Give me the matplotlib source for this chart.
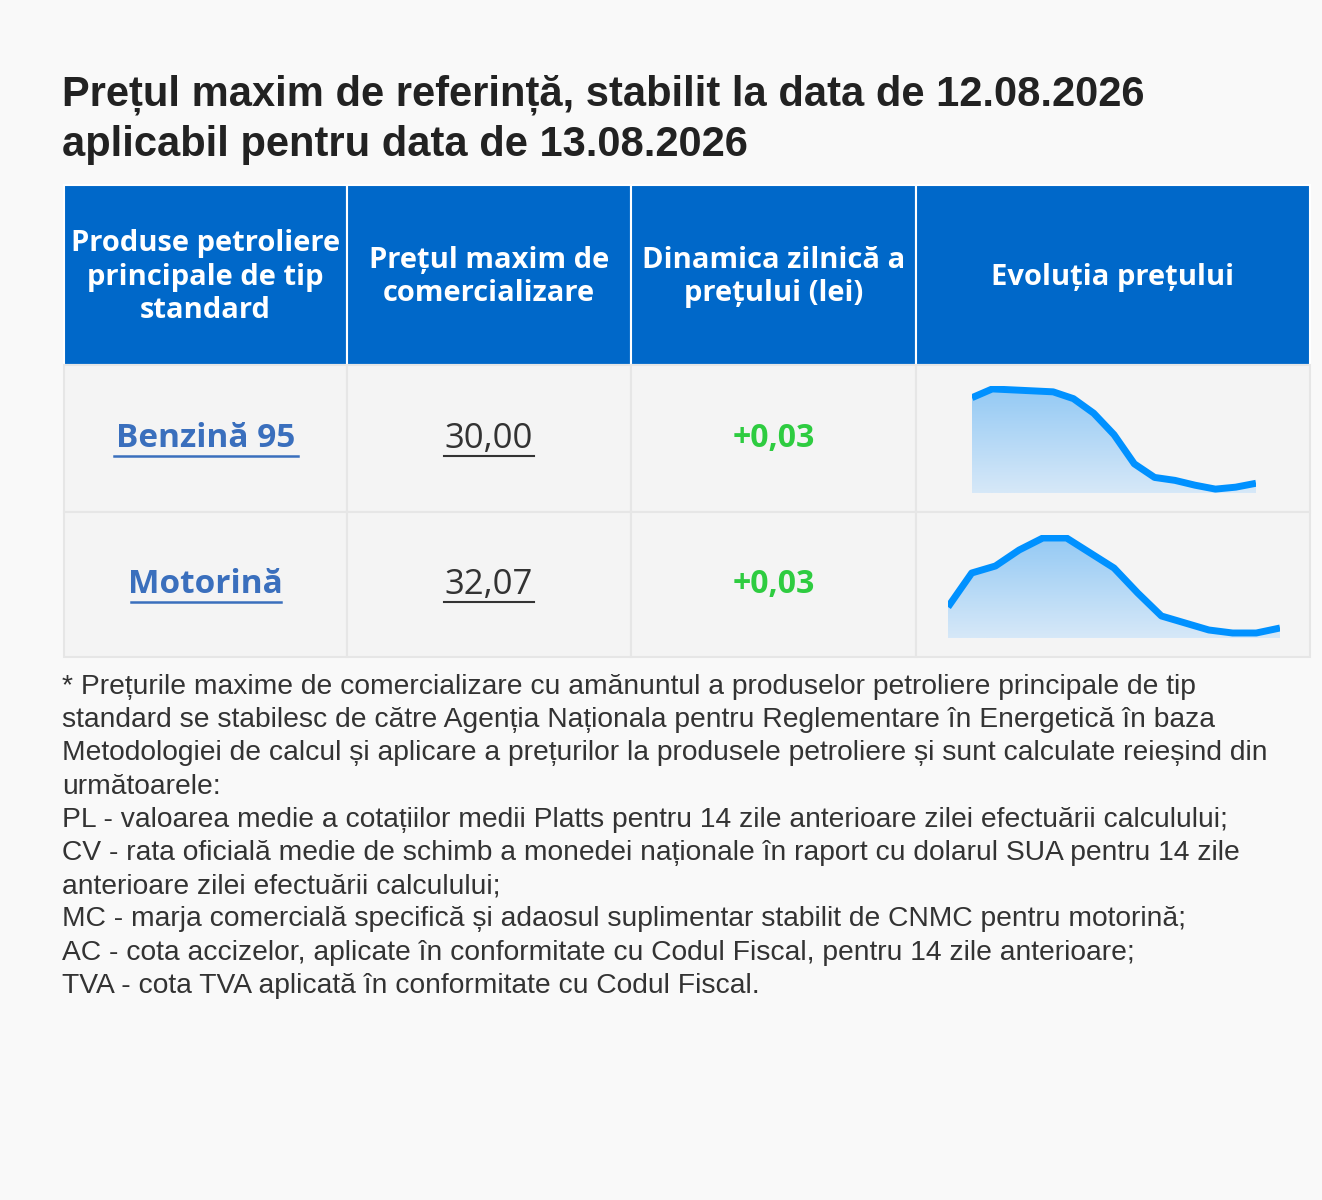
import numpy as np
import matplotlib.pyplot as plt
from matplotlib.patches import Rectangle

title_lines = ["Prețul maxim de referință, stabilit la data de 12.08.2026",
               "aplicabil pentru data de 13.08.2026"]
headers = ["Produse petroliere\nprincipale de tip\nstandard", "Prețul maxim de\ncomercializare",
           "Dinamica zilnică a\nprețului (lei)", "Evoluția prețului"]
products = ["Benzină 95", "Motorină"]
prices = ["30,00", "32,07"]
changes = ["+0,03", "+0,03"]
# sparkline shapes (relative price level)
trend_benzina = [98, 107, 106, 105, 104, 97, 82, 60, 30, 16, 13, 8, 4, 6, 10]
trend_motorina = [31, 65, 72, 88, 100, 100, 85, 70, 45, 22, 15, 8, 5, 5, 10]
footnote = [
    "* Prețurile maxime de comercializare cu amănuntul a produselor petroliere principale de tip",
    "standard se stabilesc de către Agenția Naționala pentru Reglementare în Energetică în baza",
    "Metodologiei de calcul și aplicare a prețurilor la produsele petroliere și sunt calculate reieșind din",
    "următoarele:",
    "PL - valoarea medie a cotațiilor medii Platts pentru 14 zile anterioare zilei efectuării calculului;",
    "CV - rata oficială medie de schimb a monedei naționale în raport cu dolarul SUA pentru 14 zile",
    "anterioare zilei efectuării calculului;",
    "MC - marja comercială specifică și adaosul suplimentar stabilit de CNMC pentru motorină;",
    "AC - cota accizelor, aplicate în conformitate cu Codul Fiscal, pentru 14 zile anterioare;",
    "TVA - cota TVA aplicată în conformitate cu Codul Fiscal.",
]

W, H = 1322, 1200
fig = plt.figure(figsize=(W / 100, H / 100), dpi=100, facecolor="#f9f9f9")
ax = fig.add_axes([0, 0, 1, 1])
ax.set_xlim(0, W)
ax.set_ylim(H, 0)
ax.axis("off")

for i, t in enumerate(title_lines):
    ax.text(62, 95 + i * 50, t, fontsize=30, fontweight="bold", color="#222222",
            family="Liberation Sans", va="center")

cols = [64, 347, 631, 916, 1310]
head_top, head_bot = 185, 365
rows = [(365, 512), (512, 657)]
blue = "#0068c9"
for c in range(4):
    ax.add_patch(Rectangle((cols[c], head_top), cols[c + 1] - cols[c], head_bot - head_top,
                           facecolor=blue, edgecolor="white", lw=1.5))
    ax.text((cols[c] + cols[c + 1]) / 2, 277, headers[c], color="white", fontsize=21,
            fontweight="bold", family="Open Sans", ha="center", va="center", linespacing=1.2)
for r, (y0, y1) in enumerate(rows):
    for c in range(4):
        ax.add_patch(Rectangle((cols[c], y0), cols[c + 1] - cols[c], y1 - y0,
                               facecolor="#f4f4f4", edgecolor="#e6e6e6", lw=1.5))
    yc = (y0 + y1) / 2
    xc = (cols[0] + cols[1]) / 2
    ax.text(xc, yc, products[r], color="#3a6fbd", fontsize=24, fontweight="bold",
            family="Open Sans", ha="center", va="center")
    hw = 92 if r == 0 else 75
    ax.plot([xc - hw, xc + hw], [yc + 17, yc + 17], color="#3a6fbd", lw=1.8)
    xc = (cols[1] + cols[2]) / 2
    ax.text(xc, yc, prices[r], color="#333333", fontsize=25, family="Open Sans",
            ha="center", va="center")
    ax.plot([xc - 45, xc + 45], [yc + 17, yc + 17], color="#333333", lw=1.5)
    ax.text((cols[2] + cols[3]) / 2, yc, changes[r], color="#2ecc40", fontsize=23,
            fontweight="bold", family="Open Sans", ha="center", va="center")


def spark(vals, x0, x1, ytop, ybot, vmax):
    a = fig.add_axes([x0 / W, 1 - ybot / H, (x1 - x0) / W, (ybot - ytop) / H])
    a.axis("off")
    xs = np.arange(len(vals))
    poly = a.fill_between(xs, vals, 0, color="none", lw=0)
    grad = np.linspace(0, 1, 100).reshape(-1, 1)
    cmap = plt.matplotlib.colors.LinearSegmentedColormap.from_list(
        "g", ["#d6e8f8", "#93c9f4"])
    im = a.imshow(grad, cmap=cmap, aspect="auto", origin="lower",
                  extent=[0, len(vals) - 1, 0, vmax])
    im.set_clip_path(poly.get_paths()[0], transform=a.transData)
    a.plot(xs, vals, color="#0091ff", lw=5, solid_capstyle="butt", solid_joinstyle="round")
    a.set_xlim(0, len(vals) - 1)
    a.set_ylim(0, vmax)


spark(trend_benzina, 972, 1256, 386, 493, 110)
spark(trend_motorina, 948, 1280, 535, 638, 103)

for i, line in enumerate(footnote):
    ax.text(62, 687 + i * 33.2, line, fontsize=20.3, color="#333333",
            family="Liberation Sans", va="center")

fig.savefig("out.png", dpi=100, facecolor=fig.get_facecolor())
